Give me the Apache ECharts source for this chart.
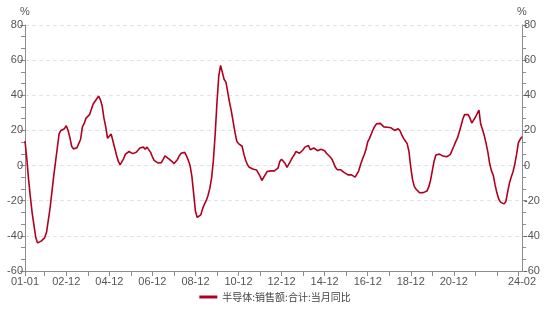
<!DOCTYPE html>
<html>
<head>
<meta charset="utf-8">
<script src="https://cdn.jsdelivr.net/npm/echarts@6/dist/echarts.min.js"></script>
<style>html,body{margin:0;padding:0;background:#fff}#c{width:550px;height:309px}</style>
</head>
<body>
<div id="c"></div>
<script>
// Monthly categories 2001-01 .. 2024-02
var startYear = 2001, startMonth = 1, monthCount = 278;
var categories = [];
for (var k = 0; k < monthCount; k++) {
  var m = startMonth - 1 + k;
  var yy = (startYear + Math.floor(m / 12)) % 100;
  var mm = (m % 12) + 1;
  categories.push((yy < 10 ? '0' : '') + yy + '-' + (mm < 10 ? '0' : '') + mm);
}
var seriesName = '半导体:销售额:合计:当月同比';
var y2001 = [14, 4, -8, -18, -27, -34, -41, -44, -44.5, -43, -43, -41];
var y2002 = [-38, -31, -24, -15, -6, 2, 10, 18, 20, 20.5, 21, 22.7];
var y2003 = [20, 16, 11, 9.5, 10, 10.2, 11, 15, 22, 24, 27, 27];
var y2004 = [29, 32, 35, 36, 38, 39.5, 37.5, 34, 27, 22, 15.5, 16];
var y2005 = [18, 14, 10, 6, 2.5, 0.4, 0, 4, 6.5, 7.5, 8, 7];
var y2006 = [6.8, 7, 7.6, 8.5, 10, 11, 10.5, 9.3, 10.5, 10, 7.5, 5];
var y2007 = [3, 2, 1.5, 1.3, 1.7, 3.5, 5.5, 6, 4, 3, 2.3, 1];
var y2008 = [1.5, 3.5, 5.5, 7, 7.8, 7.5, 5.5, 3, 0, -6, -16, -26];
var y2009 = [-29.5, -30.3, -28, -24.5, -22, -20, -17, -13, -7, 3, 18, 36];
var y2010 = [51, 57, 56, 49, 47.5, 48.3, 36, 31, 25, 19, 14, 12.5];
var y2011 = [13.5, 11, 6.5, 3, 0.5, -1, -2, -2, -1.8, -2.5, -3.5, -6];
var y2012 = [-8.5, -8, -5, -3.4, -3.2, -3, -2, -3, -3.5, -1.5, 2.3, 3.6];
var y2013 = [2.5, 1.2, -1, 0, 2.5, 4.5, 6, 8, 7.5, 7, 8, 9];
var y2014 = [10.5, 11.4, 11.4, 9, 10, 10, 9, 8.5, 9, 9.3, 9.2, 8.5];
var y2015 = [7, 6, 5, 3.8, 1.5, -1, -2.3, -2.5, -2.4, -2.8, -4, -5];
var y2016 = [-5.3, -5.2, -5.3, -5.8, -6.6, -5.5, -3, 0.5, 3.5, 6, 9, 13.5];
var y2017 = [15.5, 18, 20.5, 22.5, 23.8, 24.1, 24, 23, 22, 21.7, 21.8, 22.5];
var y2018 = [21.5, 20.5, 20, 20.5, 21, 19.8, 17.5, 15.5, 14, 12.5, 8, -1];
var y2019 = [-8, -12, -13.5, -14.5, -15.5, -16.3, -15.4, -15.3, -14.5, -12.3, -8.5, -3];
var y2020 = [2.5, 6, 7, 6.5, 6, 5.4, 5, 5, 5.5, 6.2, 7, 11];
var y2021 = [13.5, 15.6, 19, 22.5, 26.5, 29, 29.2, 29, 27, 24.2, 24, 27.5];
var y2022 = [26.5, 31.5, 23.5, 20.5, 17, 12.5, 7.5, 1, -3, -5.5, -11, -15.5];
var y2023 = [-19, -20.8, -21.5, -21.8, -20.5, -15, -10, -6.5, -3.5, 1, 6.5, 13];
var y2024 = [15, 16.5];
var values = [].concat(y2001, y2002, y2003, y2004, y2005, y2006, y2007, y2008, y2009, y2010,
  y2011, y2012, y2013, y2014, y2015, y2016, y2017, y2018, y2019, y2020, y2021, y2022, y2023, y2024);
var yTicks = { min: -60, max: 80, interval: 20 };

var lastIdx = categories.length - 1;
function showLabel(i) {
  if (i === 0 || i === lastIdx) return true;
  return (i + 1) % 24 === 0 && i < lastIdx - 20;
}
function showTick(i) {
  return i === 0 || (i + 1) % 12 === 0;
}
var axisGrey = '#8c8c8c';
var labelColor = '#555';
function yAxisCfg(pos) {
  return {
    type: 'value', position: pos, min: yTicks.min, max: yTicks.max, interval: yTicks.interval,
    name: '%', nameGap: 8,
    nameTextStyle: { color: labelColor, fontSize: 11, align: 'center' },
    axisLine: { show: true, lineStyle: { color: axisGrey } },
    axisTick: { show: true, length: 5, lineStyle: { color: axisGrey } },
    minorTick: { show: true, splitNumber: 3, length: 4, lineStyle: { color: axisGrey } },
    axisLabel: { color: labelColor, fontSize: 11, margin: 2, fontFamily: 'Liberation Sans' },
    splitLine: pos === 'left' ? { show: true, lineStyle: { color: '#e3e3e3', type: [4, 3] } } : { show: false }
  };
}
var chart = echarts.init(document.getElementById('c'), null, { renderer: 'canvas' });
chart.setOption({
  animation: false,
  backgroundColor: '#fff',
  grid: { left: 25, right: 28, top: 25, bottom: 38, containLabel: false },
  legend: {
    bottom: 2, left: 'center', icon: 'rect', itemWidth: 18, itemHeight: 3, itemGap: 6,
    textStyle: { color: '#444', fontSize: 10, fontFamily: 'Noto Sans CJK SC' },
    data: [seriesName]
  },
  xAxis: {
    type: 'category', data: categories, boundaryGap: false,
    axisLine: { onZero: false, lineStyle: { color: axisGrey } },
    axisTick: { show: true, length: 5, interval: function (i) { return showTick(i); }, lineStyle: { color: axisGrey } },
    axisLabel: { color: labelColor, fontSize: 11, margin: 5, interval: function (i) { return showLabel(i); },
      showMinLabel: true, showMaxLabel: true, hideOverlap: false, fontFamily: 'Liberation Sans' },
    splitLine: { show: false }
  },
  yAxis: [yAxisCfg('left'), yAxisCfg('right')],
  series: [{
    name: seriesName, type: 'line', data: values, yAxisIndex: 0,
    showSymbol: false, symbol: 'none', smooth: false,
    lineStyle: { color: '#b0001f', width: 1.6 },
    itemStyle: { color: '#b0001f' }
  }]
});
</script>
</body>
</html>
